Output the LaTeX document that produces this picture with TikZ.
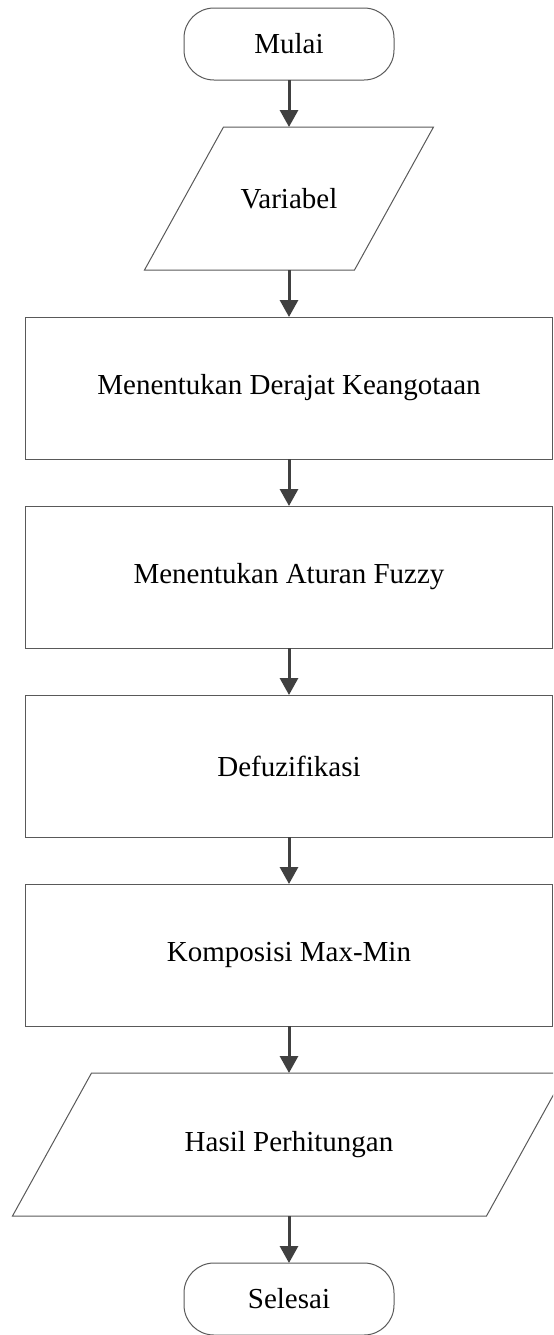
\documentclass[tikz,border=0pt]{standalone}
\usepackage{fontspec}
\setmainfont{Liberation Serif}
\usetikzlibrary{calc}
\usetikzlibrary{positioning}
\usetikzlibrary{arrows.meta}
\definecolor{garis}{RGB}{89,89,89}
\definecolor{abu}{RGB}{64,64,64}

\begin{document}
\begin{tikzpicture}[node distance=23.5pt,
    every node/.style={font=\fontsize{14.5pt}{17pt}\selectfont, outer sep=0pt},
    terminal/.style={rectangle, rounded corners=15pt, draw=garis, line width=0.5pt, minimum width=105pt, minimum height=36pt},
    proses/.style={rectangle, draw=garis, line width=0.5pt, minimum width=263.5pt, minimum height=71pt},
    io/.style={rectangle, minimum height=71.5pt},
    sisi/.style={draw=garis, line width=0.5pt},
    panah/.style={-{Triangle[width=9pt,length=8.5pt]}, draw=abu, line width=1.5pt}]
    \useasboundingbox (0,0) rectangle (276.5pt,-667.5pt);
    \clip (0,0) rectangle (276.5pt,-667.5pt);
    \node[terminal] (mulai) at (144.5pt,-22pt) {Mulai};
    \node[io, minimum width=105pt, below=of mulai] (variabel) {Variabel};
    \node[proses, below=of variabel] (derajat) {Menentukan Derajat Keangotaan};
    \node[proses, below=of derajat] (aturan) {Menentukan Aturan Fuzzy};
    \node[proses, below=of aturan] (defuz) {Defuzifikasi};
    \node[proses, below=of defuz] (komposisi) {Komposisi Max-Min};
    \node[io, minimum width=237pt, below=of komposisi] (hasil) {Hasil Perhitungan};
    \node[terminal, below=of hasil] (selesai) {Selesai};
    \foreach \n in {variabel, hasil}
        \draw[sisi] ($(\n.north west)+(19.75pt,0)$) -- ($(\n.north east)+(19.75pt,0)$)
            -- ($(\n.south east)-(19.75pt,0)$) -- ($(\n.south west)-(19.75pt,0)$) -- cycle;
    \foreach \a/\b in {mulai/variabel, variabel/derajat, derajat/aturan, aturan/defuz,
        defuz/komposisi, komposisi/hasil, hasil/selesai}
        \draw[panah] (\a) -- (\b);
\end{tikzpicture}
\end{document}
